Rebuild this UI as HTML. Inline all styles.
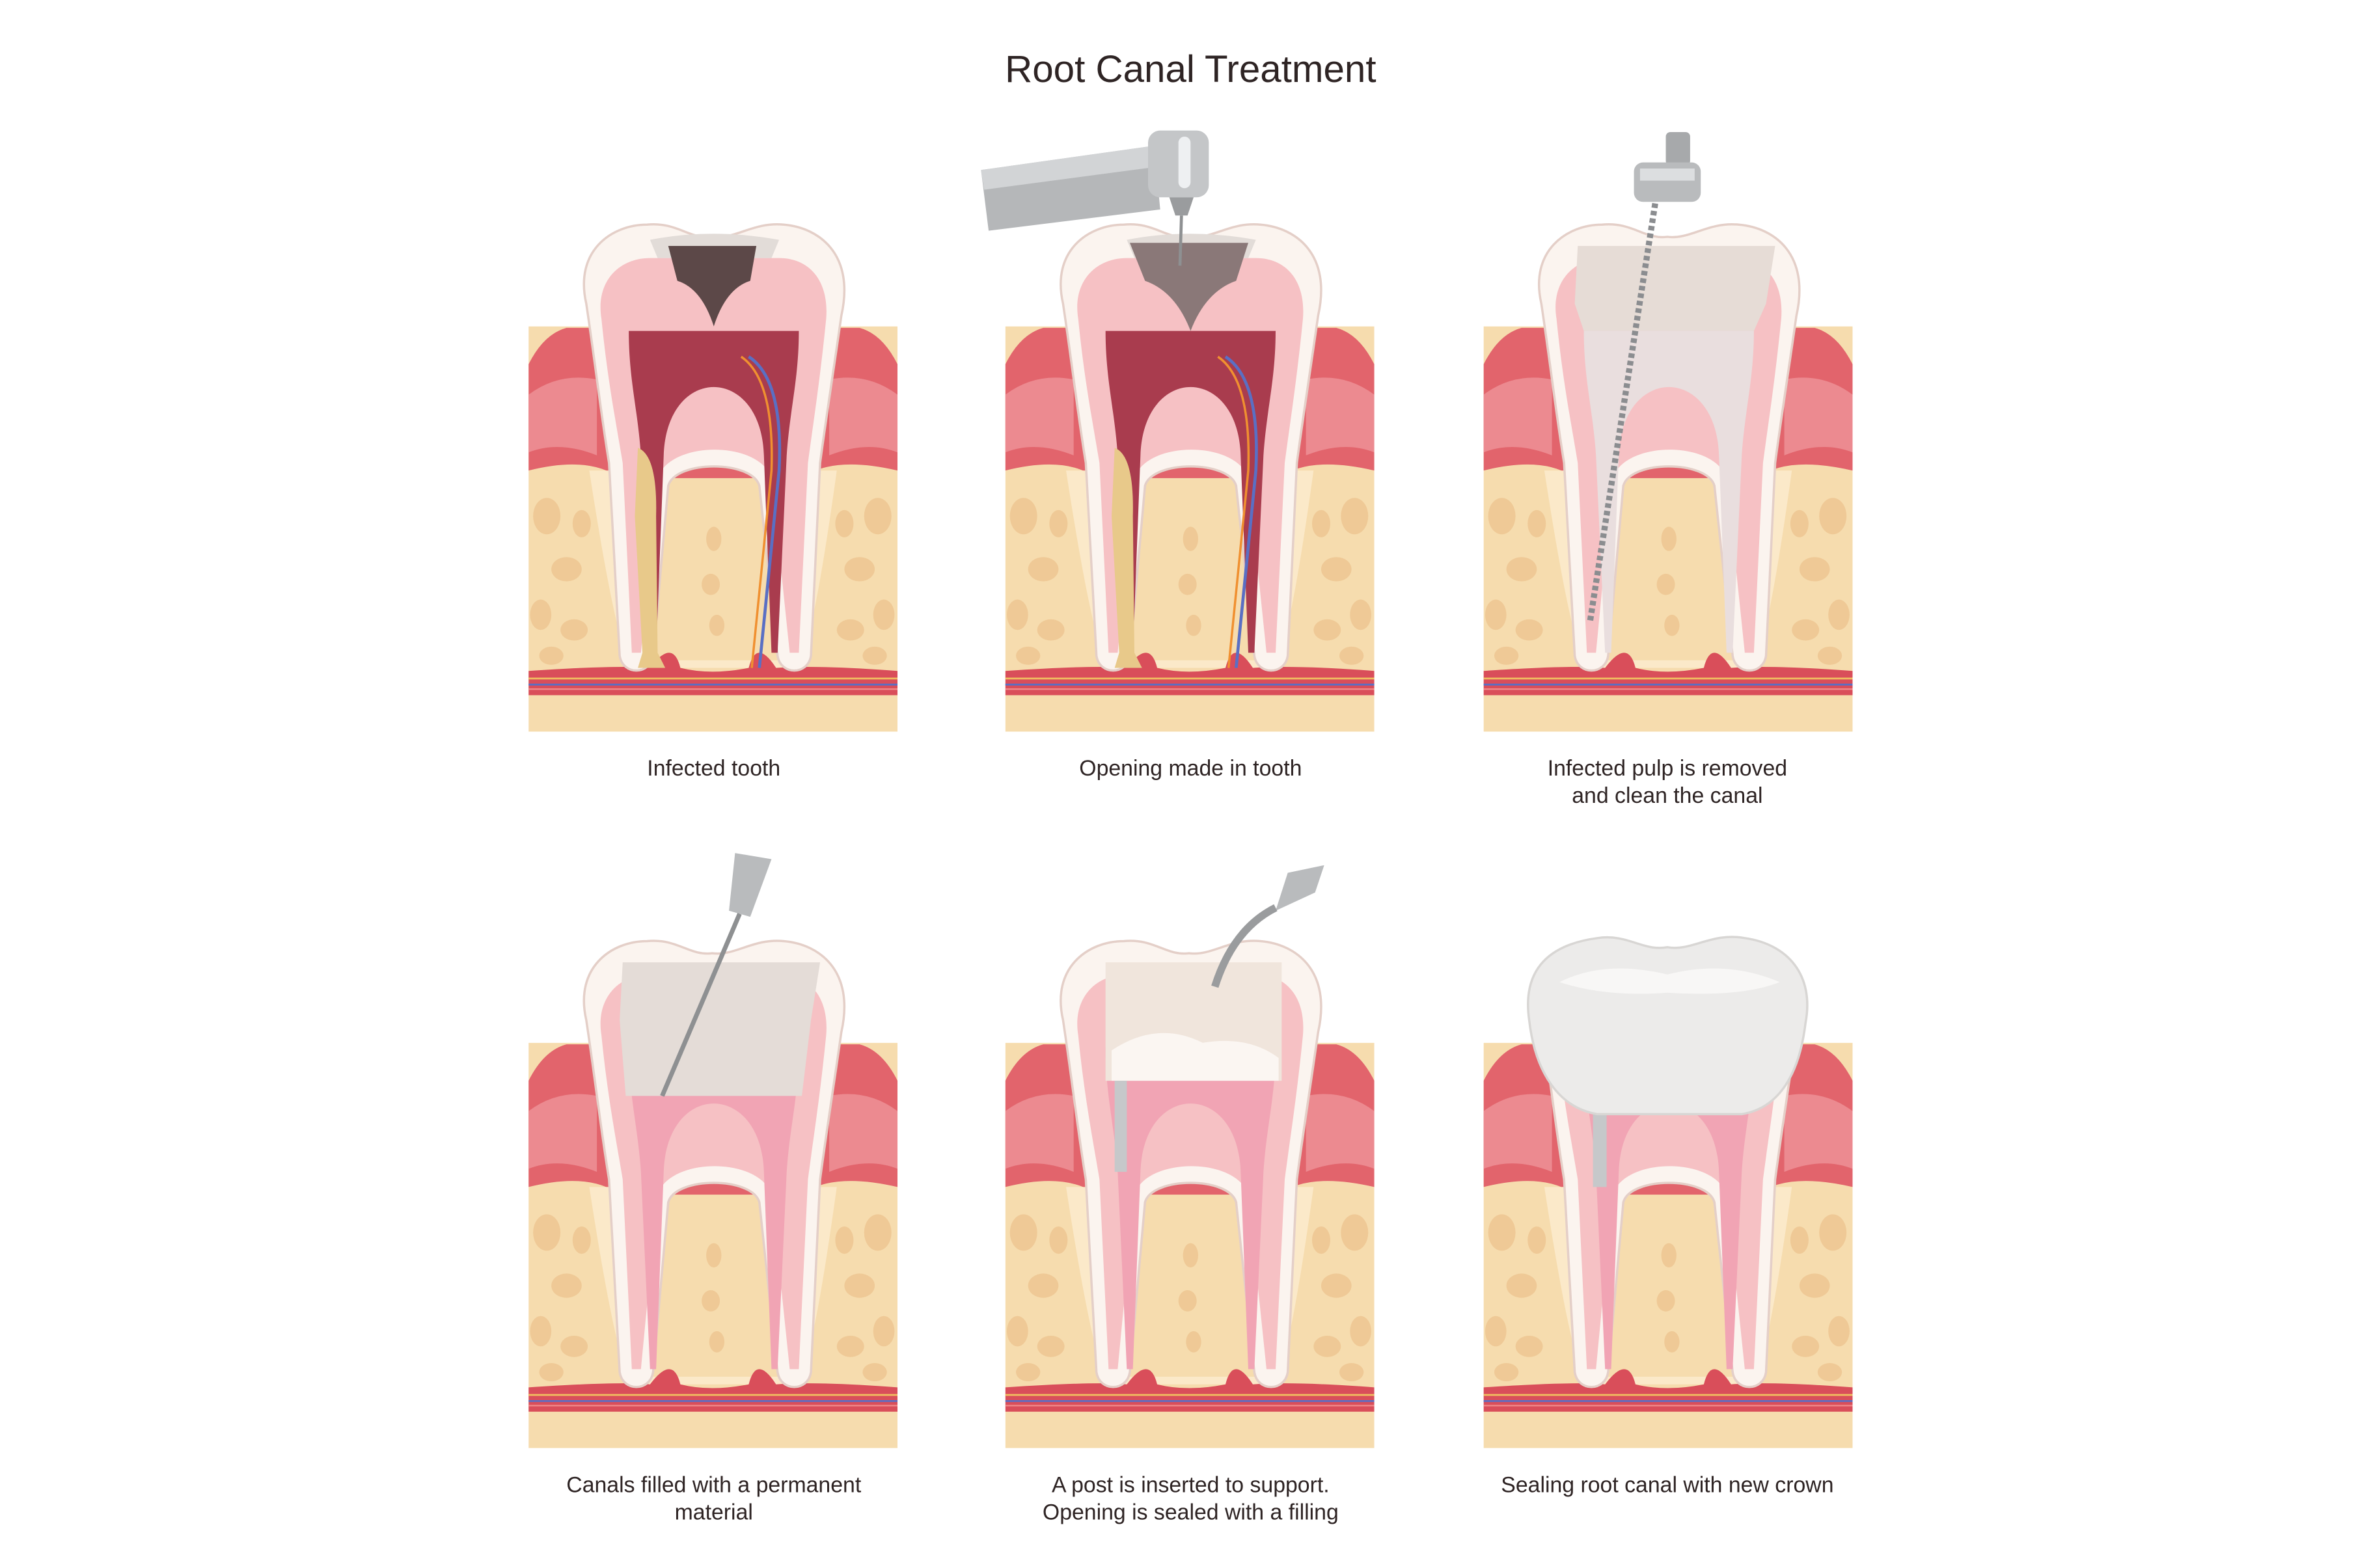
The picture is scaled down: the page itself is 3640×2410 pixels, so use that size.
<!DOCTYPE html>
<html><head><meta charset="utf-8"><style>
html,body{margin:0;padding:0;background:#fff;}
svg{display:block;}
text{font-family:"Liberation Sans",sans-serif;fill:#2e2424;}
</style></head><body>
<svg width="3640" height="2410" viewBox="0 0 1560 1033" xmlns="http://www.w3.org/2000/svg">
<defs>
<clipPath id="pc"><rect x="0" y="75" width="243" height="267"/></clipPath>
<g id="bg">
 <g clip-path="url(#pc)">
  <rect x="0" y="75" width="243" height="267" fill="#f6dcae"/>
  <path d="M0,100 Q10,80 25,76 L218,76 Q233,80 243,100 L243,170 Q200,160 180,175 L60,175 Q40,160 0,170 Z" fill="#e2646c"/>
  <path d="M0,120 Q20,105 45,110 L45,160 Q20,150 0,158 Z" fill="#ec8a90"/>
  <path d="M243,120 Q223,105 198,110 L198,160 Q223,150 243,158 Z" fill="#ec8a90"/>
  <g fill="#efc996">
   <ellipse cx="12" cy="200" rx="9" ry="12"/><ellipse cx="25" cy="235" rx="10" ry="8"/><ellipse cx="8" cy="265" rx="7" ry="10"/>
   <ellipse cx="30" cy="275" rx="9" ry="7"/><ellipse cx="15" cy="292" rx="8" ry="6"/><ellipse cx="35" cy="205" rx="6" ry="9"/>
   <ellipse cx="230" cy="200" rx="9" ry="12"/><ellipse cx="218" cy="235" rx="10" ry="8"/><ellipse cx="234" cy="265" rx="7" ry="10"/>
   <ellipse cx="212" cy="275" rx="9" ry="7"/><ellipse cx="228" cy="292" rx="8" ry="6"/><ellipse cx="208" cy="205" rx="6" ry="9"/>
   <ellipse cx="122" cy="215" rx="5" ry="8"/><ellipse cx="120" cy="245" rx="6" ry="7"/><ellipse cx="124" cy="272" rx="5" ry="7"/>
  </g>
  <path d="M40,170 Q60,300 70,300 L175,300 Q185,300 203,170 L190,170 L185,295 L60,295 L55,170 Z" fill="#fbe9c9"/>
  <path d="M0,302 Q60,298 80,300 Q95,280 100,300 Q120,305 145,300 Q150,280 163,300 Q190,298 243,302 L243,318 L0,318 Z" fill="#d94e5a"/>
  <path d="M0,307 L243,307" stroke="#f0c060" stroke-width="1.2"/>
  <path d="M0,311 L243,311" stroke="#5a6fc4" stroke-width="1.2"/>
  <path d="M0,314 L243,314" stroke="#f08a8a" stroke-width="1"/>
 </g>
</g>
<path id="outer" d="M38,60 C30,25 55,8 78,8 C98,6 106,18 121,16 C136,18 148,6 168,8 C192,10 215,28 206,68 C200,110 196,135 192,165 L186,292 C184,305 166,305 164,292 L152,180 C147,163 97,163 92,180 L82,292 C80,305 62,305 60,292 L53,165 C48,135 44,100 38,60 Z"/>
<path id="dentin" d="M48,70 C44,45 60,30 80,30 L165,30 C185,30 198,45 196,70 C192,110 188,135 184,165 L178,290 L172,290 L160,175 C152,150 93,150 85,175 L74,290 L68,290 L62,165 C57,135 52,110 48,70 Z"/>
<path id="pulp" d="M66,78 L178,78 C178,110 172,130 170,160 L164,290 L160,290 L155,160 C153,100 91,100 89,160 L84,290 L80,290 L74,160 C72,130 66,110 66,78 Z"/>
<g id="tooth">
 <use href="#outer" fill="#fbf4ef" stroke="#e4cfc8" stroke-width="1.5"/>
 <use href="#dentin" fill="#f6c1c4"/>
</g>
</defs>

<text x="784" y="54" font-size="25" text-anchor="middle">Root Canal Treatment</text>

<!-- Panel 1 -->
<g transform="translate(348,140)">
 <use href="#bg"/><use href="#tooth"/>
 <use href="#pulp" fill="#a93c4e"/>
 <path d="M80,18 Q121,10 165,18 L160,30 L85,30 Z" fill="#e2dcd8"/>
 <path d="M92,22 L150,22 L146,45 Q130,50 122,75 Q114,50 98,45 Z" fill="#5c4848"/>
 <path d="M72,155 Q85,160 84,200 L85,290 L90,300 L72,300 L75,290 L70,200 Z" fill="#e8c98a"/>
 <path d="M145,95 Q168,110 165,170 L152,300" stroke="#5a6fc4" stroke-width="2" fill="none"/>
 <path d="M140,95 Q162,110 160,170 L147,300" stroke="#f09030" stroke-width="1.5" fill="none"/>
</g>
<text x="470" y="511" font-size="14.5" text-anchor="middle">Infected tooth</text>

<!-- Panel 2 -->
<g transform="translate(662,140)">
 <use href="#bg"/><use href="#tooth"/>
 <use href="#pulp" fill="#a93c4e"/>
 <path d="M80,18 Q121,10 165,18 L160,30 L85,30 Z" fill="#e2dcd8"/>
 <path d="M82,20 L160,20 L152,45 Q132,52 122,78 Q112,52 92,45 Z" fill="#8a7878"/>
 <path d="M72,155 Q85,160 84,200 L85,290 L90,300 L72,300 L75,290 L70,200 Z" fill="#e8c98a"/>
 <path d="M145,95 Q168,110 165,170 L152,300" stroke="#5a6fc4" stroke-width="2" fill="none"/>
 <path d="M140,95 Q162,110 160,170 L147,300" stroke="#f09030" stroke-width="1.5" fill="none"/>
</g>
<path d="M646,112 L760,96 L764,138 L651,152 Z" fill="#b5b7b9"/>
<path d="M646,112 L760,96 L761,110 L648,125 Z" fill="#d2d4d6"/>
<rect x="756" y="86" width="40" height="44" rx="8" fill="#c4c6c8"/>
<rect x="776" y="90" width="8" height="34" rx="4" fill="#eef0f2"/>
<path d="M770,130 L786,130 L782,142 L774,142 Z" fill="#9a9c9e"/>
<path d="M778,142 L777,175" stroke="#8e9092" stroke-width="2"/>
<text x="784" y="511" font-size="14.5" text-anchor="middle">Opening made in tooth</text>

<!-- Panel 3 -->
<g transform="translate(977,140)">
 <use href="#bg"/><use href="#tooth"/>
 <use href="#pulp" fill="#e9dede"/>
 <path d="M62,22 L192,22 L186,60 L178,78 L66,78 L60,60 Z" fill="#e6dcd6"/>
</g>
<rect x="1097" y="87" width="16" height="22" rx="3" fill="#a7a9ab"/>
<rect x="1076" y="107" width="44" height="26" rx="6" fill="#b9bbbd"/>
<rect x="1080" y="111" width="36" height="8" fill="#dcdee0"/>
<path d="M1090,134 L1047,410" stroke="#8b8d90" stroke-width="4" stroke-dasharray="3 2"/>
<text x="1098" y="511" font-size="14.5" text-anchor="middle">Infected pulp is removed</text>
<text x="1098" y="529" font-size="14.5" text-anchor="middle">and clean the canal</text>

<!-- Panel 4 -->
<g transform="translate(348,612)">
 <use href="#bg"/><use href="#tooth"/>
 <use href="#pulp" fill="#f1a4b4"/>
 <path d="M62,22 L192,22 L186,60 L180,110 L64,110 L60,60 Z" fill="#e4dcd7"/>
</g>
<path d="M484,562 L508,566 L494,604 L480,600 Z" fill="#b9bbbd"/>
<path d="M487,602 L436,722" stroke="#8e9092" stroke-width="3"/>
<text x="470" y="983" font-size="14.5" text-anchor="middle">Canals filled with a permanent</text>
<text x="470" y="1001" font-size="14.5" text-anchor="middle">material</text>

<!-- Panel 5 -->
<g transform="translate(662,612)">
 <use href="#bg"/><use href="#tooth"/>
 <use href="#pulp" fill="#f1a4b4"/>
 <path d="M66,22 L182,22 L182,100 L66,100 Z" fill="#f0e5dc"/>
 <path d="M70,80 Q100,60 130,75 Q160,70 180,85 L180,100 L70,100 Z" fill="#fbf6f2"/>
 <rect x="72" y="100" width="8" height="60" fill="#c6c8ca"/>
</g>
<path d="M848,575 L872,570 L866,588 L840,600 Z" fill="#b9bbbd"/>
<path d="M840,598 Q812,612 800,650" stroke="#9a9c9e" stroke-width="5" fill="none"/>
<text x="784" y="983" font-size="14.5" text-anchor="middle">A post is inserted to support.</text>
<text x="784" y="1001" font-size="14.5" text-anchor="middle">Opening is sealed with a filling</text>

<!-- Panel 6 -->
<g transform="translate(977,612)">
 <use href="#bg"/><use href="#tooth"/>
 <use href="#pulp" fill="#f1a4b4"/>
 <rect x="72" y="110" width="9" height="60" fill="#c6c8ca"/>
 <path d="M30,60 C25,25 45,10 75,6 C95,3 105,15 121,12 C137,15 150,2 172,6 C200,10 218,30 212,62 C208,95 195,118 170,122 L75,122 C50,118 34,95 30,60 Z" fill="#ecebea" stroke="#d8d6d4" stroke-width="1.5"/>
 <path d="M50,35 Q80,20 121,30 Q160,20 195,35 Q170,45 121,42 Q80,45 50,35 Z" fill="#f8f7f6"/>
</g>
<text x="1098" y="983" font-size="14.5" text-anchor="middle">Sealing root canal with new crown</text>
</svg>
</body></html>
